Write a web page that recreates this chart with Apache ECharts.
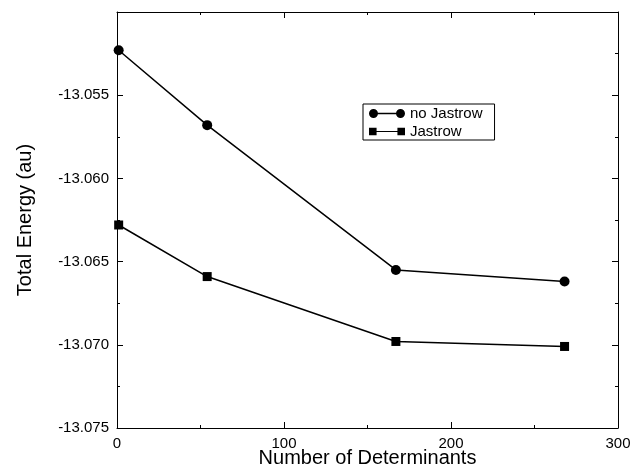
<!DOCTYPE html>
<html>
<head>
<meta charset="utf-8">
<script src="https://cdn.jsdelivr.net/npm/echarts@6/dist/echarts.min.js"></script>
<style>html,body{margin:0;padding:0;background:#fff;}#c{width:631px;height:468px;}</style>
</head>
<body>
<div id="c"></div>
<script>
const determinants = [1, 54, 167, 268];
const noJastrow = [-13.0523, -13.0568, -13.0655, -13.0662];
const jastrow = [-13.0628, -13.0659, -13.0698, -13.0701];
const seriesNames = ['no Jastrow', 'Jastrow'];
const xTitle = 'Number of Determinants';
const yTitle = 'Total Energy (au)';

const FONT = '"Liberation Sans", Arial, Helvetica, sans-serif';
const circleIcon = 'path://M0,5 A5,5 0 1,1 10,5 A5,5 0 1,1 0,5 Z M9,4.3 L31,4.3 L31,5.7 L9,5.7 Z M30,5 A5,5 0 1,1 40,5 A5,5 0 1,1 30,5 Z';
const squareIcon = 'path://M1,1 L9,1 L9,9 L1,9 Z M8,4.5 L32,4.5 L32,5.5 L8,5.5 Z M31,1 L39,1 L39,9 L31,9 Z';

function pairs(xs, ys) { return xs.map((x, i) => [x, ys[i]]); }

const chart = echarts.init(document.getElementById('c'), null, {renderer: 'canvas'});
const axisCommon = {
  axisLine: {show: true, onZero: false, lineStyle: {color: '#000', width: 1}},
  axisTick: {show: true, inside: true, length: 6, lineStyle: {color: '#000'}},
  minorTick: {show: true, splitNumber: 2, length: 3, lineStyle: {color: '#000'}},
  splitLine: {show: false},
  minorSplitLine: {show: false}
};
chart.setOption({
  backgroundColor: '#fff',
  animation: false,
  textStyle: {fontFamily: FONT},
  grid: {left: 117, right: 13, top: 12, bottom: 40, containLabel: false, outerBoundsMode: 'none'},
  legend: {
    left: 363, top: 104,
    orient: 'vertical',
    itemWidth: 36, itemHeight: 10, itemGap: 3,
    padding: [2, 12, 1, 6],
    borderColor: '#000', borderWidth: 1, backgroundColor: '#fff',
    textStyle: {fontFamily: FONT, fontSize: 15, color: '#000'},
    data: [
      {name: seriesNames[0], icon: circleIcon},
      {name: seriesNames[1], icon: squareIcon}
    ]
  },
  xAxis: [
    Object.assign({}, axisCommon, {
      type: 'value', min: 0, max: 300, interval: 100, position: 'bottom',
      name: xTitle, nameLocation: 'middle', nameGap: 20, nameMoveOverlap: false,
      nameTextStyle: {fontFamily: FONT, fontSize: 20, color: '#000'},
      axisLabel: {fontFamily: FONT, fontSize: 15, color: '#000', margin: 8}
    }),
    Object.assign({}, axisCommon, {
      type: 'value', min: 0, max: 300, interval: 100, position: 'top',
      axisLabel: {show: false}
    })
  ],
  yAxis: [
    Object.assign({}, axisCommon, {
      type: 'value', min: -13.075, max: -13.05, interval: 0.005, position: 'left',
      name: yTitle, nameLocation: 'middle', nameGap: 82, nameMoveOverlap: false,
      nameTextStyle: {fontFamily: FONT, fontSize: 20, color: '#000'},
      axisLabel: {fontFamily: FONT, fontSize: 15, color: '#000', margin: 8, showMaxLabel: false,
        formatter: v => v.toFixed(3)}
    }),
    Object.assign({}, axisCommon, {
      type: 'value', min: -13.075, max: -13.05, interval: 0.005, position: 'right',
      axisLabel: {show: false}
    })
  ],
  series: [
    {
      name: seriesNames[0], type: 'line', xAxisIndex: 0, yAxisIndex: 0,
      data: pairs(determinants, noJastrow),
      symbol: 'circle', symbolSize: 10,
      lineStyle: {color: '#000', width: 1.5},
      itemStyle: {color: '#000'}
    },
    {
      name: seriesNames[1], type: 'line', xAxisIndex: 0, yAxisIndex: 0,
      data: pairs(determinants, jastrow),
      symbol: 'rect', symbolSize: 9,
      lineStyle: {color: '#000', width: 1.5},
      itemStyle: {color: '#000'}
    }
  ]
});
</script>
</body>
</html>
